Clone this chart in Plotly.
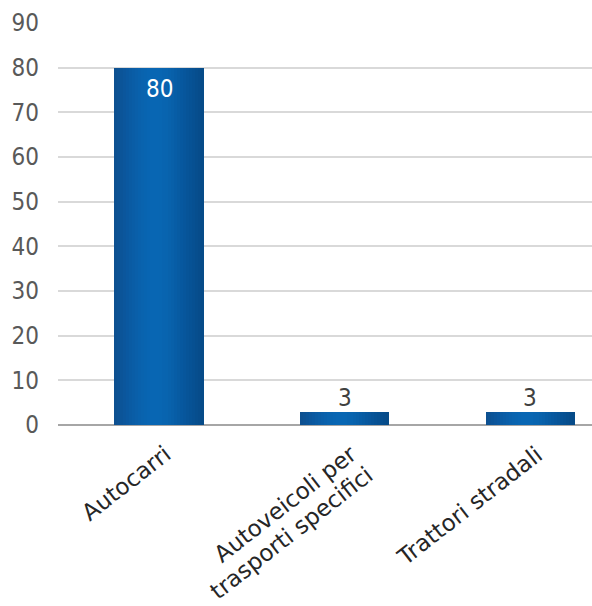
import math
import plotly.graph_objects as go

categories = ["Autocarri", "Autoveicoli per<br>trasporti specifici", "Trattori stradali"]
values = [80, 3, 3]
y_ticks = [0, 10, 20, 30, 40, 50, 60, 70, 80, 90]

FONT = "DejaVu Sans Condensed"
XFONT = "DejaVu Sans"
XFS = 23
ANGLE = 38          # label rotation (degrees, counter-clockwise)
LINE_SP = 26        # px between rotated label lines
positions = list(range(len(categories)))
bar_w = 0.48
# horizontal gradient colours across a bar (left -> right)
grad = ["#0d4f8e", "#0b559a", "#0a5ca5", "#0962ad", "#0866b3", "#0866b3",
        "#0863ae", "#075ca4", "#07559a", "#064f90", "#064a86"]

fig = go.Figure()
N = 30
for i in range(N):
    t = (i + 0.5) / N
    pos = t * (len(grad) - 1)
    k = min(int(pos), len(grad) - 2)
    f = pos - k
    c1 = grad[k]; c2 = grad[k + 1]
    rgb = [round(int(c1[j:j+2], 16) * (1 - f) + int(c2[j:j+2], 16) * f) for j in (1, 3, 5)]
    col = "rgb(%d,%d,%d)" % tuple(rgb)
    fig.add_trace(go.Bar(
        x=positions, y=values, width=bar_w / N + 0.002,
        offset=-bar_w / 2 + i * bar_w / N,
        marker=dict(color=col, line=dict(width=0)),
        hoverinfo="skip", showlegend=False,
    ))

# data labels: inside (white) for tall bars, above for short ones
for p, v in zip(positions, values):
    inside = v > 10
    fig.add_annotation(
        x=p, y=v, text=str(v), showarrow=False,
        yanchor="top" if inside else "bottom",
        yshift=-5 if inside else -2,
        font=dict(size=24, family=FONT, color="#ffffff" if inside else "#404040"),
    )

# category labels, rotated, right-aligned lines ending near the tick
th = math.radians(ANGLE)
H = XFS * 1.17 + 2
for p, c in zip(positions, categories):
    for li, line in enumerate(c.split("<br>")):
        fig.add_annotation(
            x=p, y=0, xref="x", yref="y", text=line, showarrow=False,
            textangle=-ANGLE, xanchor="right", yanchor="top",
            xshift=2 + H * math.sin(th) + li * LINE_SP * math.sin(th),
            yshift=-13 - li * LINE_SP * math.cos(th),
            font=dict(size=XFS, family=XFONT, color="#262626"),
        )

fig.update_layout(
    width=592, height=606,
    margin=dict(l=58, r=0, t=23, b=181),
    paper_bgcolor="white", plot_bgcolor="white",
    barmode="overlay", bargap=0,
    font=dict(family=FONT),
    xaxis=dict(
        range=[-0.5445, 2.334], tickmode="array", tickvals=positions,
        showticklabels=False, showgrid=False, zeroline=False,
        showline=False, ticks="", automargin=False,
    ),
    yaxis=dict(
        range=[0, 90], tickmode="array", tickvals=y_ticks,
        showgrid=True, gridcolor="#d9d9d9", gridwidth=1.5,
        zeroline=True, zerolinecolor="#a6a6a6", zerolinewidth=2,
        showline=False, ticks="", ticklabelstandoff=18, automargin=False,
        tickfont=dict(size=24, color="#595959", family=FONT),
    ),
)

fig.write_html("out.html")
